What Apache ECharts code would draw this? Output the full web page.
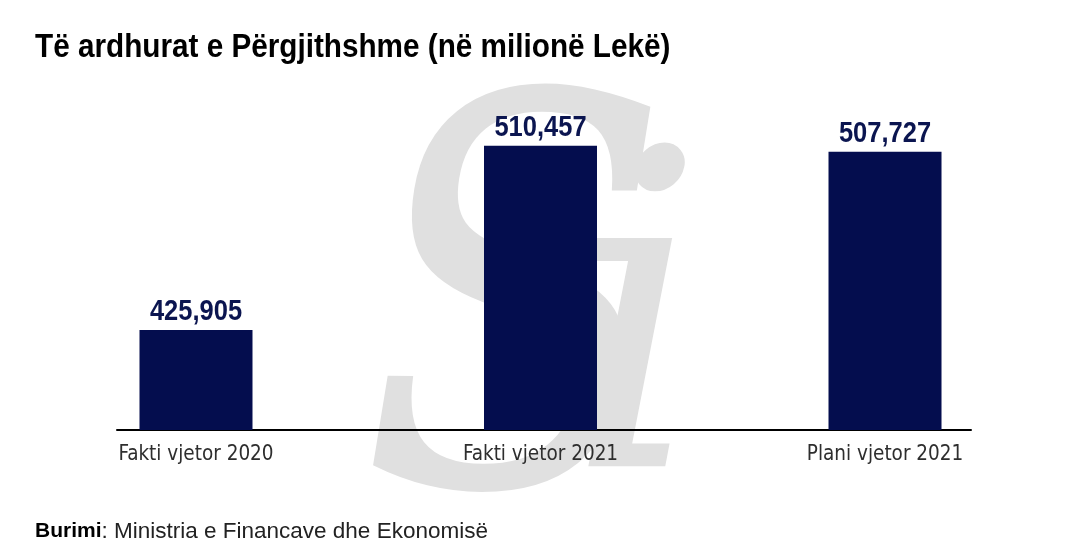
<!DOCTYPE html>
<html>
<head>
<meta charset="utf-8">
<script src="https://cdn.jsdelivr.net/npm/echarts@6/dist/echarts.min.js"></script>
<style>
html,body{margin:0;padding:0;background:#fff;}
#chart{width:1086px;height:550px;}
</style>
</head>
<body>
<div id="chart"></div>
<script>
var categories = ['Fakti vjetor 2020', 'Fakti vjetor 2021', 'Plani vjetor 2021'];
var values = [425905, 510457, 507727];
var titleText = 'Të ardhurat e Përgjithshme (në milionë Lekë)';
var sourceLabel = 'Burimi';
var sourceText = ': Ministria e Financave dhe Ekonomisë';

var SANS = '"Liberation Sans", Arial, sans-serif';
var COND = '"DejaVu Sans Condensed", "Liberation Sans", sans-serif';
var NAVY = '#040d4e';

var chart = echarts.init(document.getElementById('chart'), null, {renderer: 'canvas'});
var barData = values.map(function (v, i) { return [i, v]; });

chart.setOption({
  backgroundColor: '#ffffff',
  animation: false,
  graphic: [
    {type: 'text', z: -10, left: 360, top: 74, scaleX: 0.84,
      style: {text: 'S', fontFamily: '"DejaVu Serif", serif', fontStyle: 'italic', fontSize: 540, fill: '#e0e0e0'}},
    {type: 'text', z: -10, left: 566, top: 132,
      style: {text: 'i', fontFamily: '"DejaVu Serif", serif', fontStyle: 'italic', fontSize: 440, fill: '#e0e0e0'}},
    {type: 'text', x: 35, y: 31, scaleX: 0.9,
      style: {text: titleText, fontFamily: SANS, fontWeight: 'bold', fontSize: 33, fill: '#000', textVerticalAlign: 'top'}},
    {type: 'text', left: 35, top: 520,
      style: {
        rich: {
          b: {fontFamily: SANS, fontWeight: 'bold', fontSize: 21, fill: '#000'},
          r: {fontFamily: SANS, fontSize: 22.5, fill: '#222'}
        },
        text: '{b|' + sourceLabel + '}{r|' + sourceText + '}'
      }}
  ],
  grid: {left: 117, right: 115, top: 103.2, bottom: 120, containLabel: false},
  xAxis: {
    type: 'value',
    min: -0.2293,
    max: 2.2496,
    splitLine: {show: false},
    axisTick: {show: false},
    axisLine: {show: true, onZero: false, lineStyle: {color: '#000', width: 2}},
    axisLabel: {
      customValues: [0, 1, 2],
      margin: 14,
      fontFamily: COND,
      fontSize: 20.5,
      color: '#2e2e2e',
      formatter: function (v) { return categories[Math.round(v)] || ''; }
    }
  },
  yAxis: {
    type: 'value',
    min: 380000,
    max: 530000,
    show: false,
    splitLine: {show: false}
  },
  series: [{
    type: 'bar',
    data: barData,
    barWidth: 113,
    itemStyle: {color: NAVY},
    z: 2
  }, {
    type: 'custom',
    data: barData,
    encode: {x: 0, y: 1},
    clip: false,
    z: 3,
    renderItem: function (params, api) {
      var pt = api.coord([api.value(0), api.value(1)]);
      return {
        type: 'text',
        x: pt[0],
        y: pt[1] - 3,
        scaleX: 0.85,
        style: {
          x: 0, y: 0,
          text: api.value(1).toLocaleString('en-US'),
          textAlign: 'center',
          textVerticalAlign: 'bottom',
          fontFamily: SANS,
          fontWeight: 'bold',
          fontSize: 30,
          fill: '#0b1550'
        }
      };
    }
  }]
});
</script>
</body>
</html>
